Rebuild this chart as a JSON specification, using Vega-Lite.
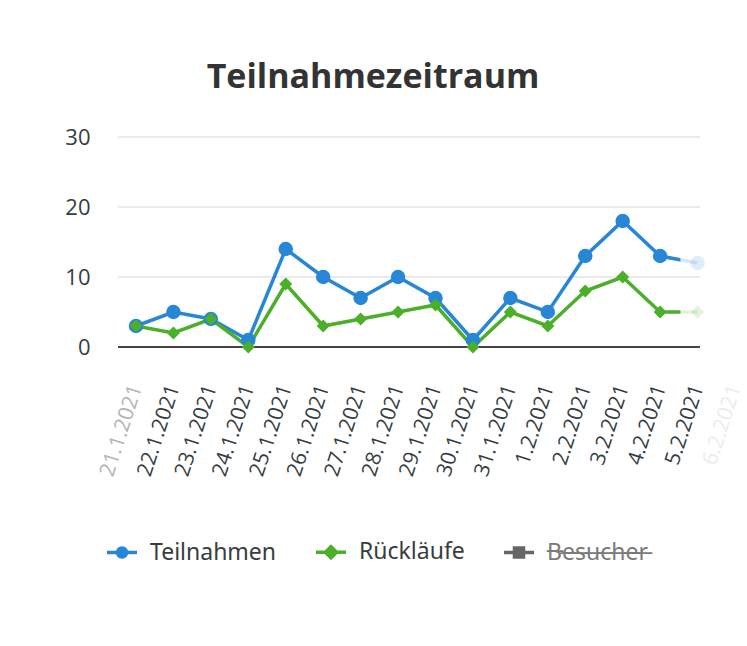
{
  "$schema": "https://vega.github.io/schema/vega-lite/v6.json",
  "width": 582,
  "height": 210,
  "autosize": "none",
  "padding": {"left": 118, "top": 137, "right": 47, "bottom": 299},
  "background": "white",
  "title": {
    "text": "Teilnahmezeitraum",
    "font": "Open Sans",
    "fontSize": 34,
    "fontWeight": "bold",
    "color": "#333333",
    "anchor": "middle",
    "dx": -36,
    "offset": 31
  },
  "layer": [
    {
      "data": {"values": [{"tick": 10}, {"tick": 20}, {"tick": 30}]},
      "mark": {"type": "rule", "stroke": "#e4e4e4", "strokeWidth": 1.5},
      "encoding": {
        "y": {
          "field": "tick",
          "type": "quantitative",
          "title": null,
          "scale": {"domain": [0, 30], "nice": false},
          "axis": {
            "values": [0, 10, 20, 30],
            "grid": false,
            "domain": false,
            "ticks": false,
            "labelPadding": 28,
            "labelFont": "Open Sans",
            "labelFontSize": 22,
            "labelColor": "#373d3f"
          }
        }
      }
    },
    {
      "data": {"values": [{"tick": 0}]},
      "mark": {"type": "rule", "stroke": "#444444", "strokeWidth": 2},
      "encoding": {
        "y": {"field": "tick", "type": "quantitative", "title": null}
      }
    },
    {
      "data": {
        "values": [
          {"date": "21.1.2021", "series": "Teilnahmen", "value": 3},
          {"date": "22.1.2021", "series": "Teilnahmen", "value": 5},
          {"date": "23.1.2021", "series": "Teilnahmen", "value": 4},
          {"date": "24.1.2021", "series": "Teilnahmen", "value": 1},
          {"date": "25.1.2021", "series": "Teilnahmen", "value": 14},
          {"date": "26.1.2021", "series": "Teilnahmen", "value": 10},
          {"date": "27.1.2021", "series": "Teilnahmen", "value": 7},
          {"date": "28.1.2021", "series": "Teilnahmen", "value": 10},
          {"date": "29.1.2021", "series": "Teilnahmen", "value": 7},
          {"date": "30.1.2021", "series": "Teilnahmen", "value": 1},
          {"date": "31.1.2021", "series": "Teilnahmen", "value": 7},
          {"date": "1.2.2021", "series": "Teilnahmen", "value": 5},
          {"date": "2.2.2021", "series": "Teilnahmen", "value": 13},
          {"date": "3.2.2021", "series": "Teilnahmen", "value": 18},
          {"date": "4.2.2021", "series": "Teilnahmen", "value": 13},
          {"date": "5.2.2021", "series": "Teilnahmen", "value": 12},
          {"date": "21.1.2021", "series": "Rückläufe", "value": 3},
          {"date": "22.1.2021", "series": "Rückläufe", "value": 2},
          {"date": "23.1.2021", "series": "Rückläufe", "value": 4},
          {"date": "24.1.2021", "series": "Rückläufe", "value": 0},
          {"date": "25.1.2021", "series": "Rückläufe", "value": 9},
          {"date": "26.1.2021", "series": "Rückläufe", "value": 3},
          {"date": "27.1.2021", "series": "Rückläufe", "value": 4},
          {"date": "28.1.2021", "series": "Rückläufe", "value": 5},
          {"date": "29.1.2021", "series": "Rückläufe", "value": 6},
          {"date": "30.1.2021", "series": "Rückläufe", "value": 0},
          {"date": "31.1.2021", "series": "Rückläufe", "value": 5},
          {"date": "1.2.2021", "series": "Rückläufe", "value": 3},
          {"date": "2.2.2021", "series": "Rückläufe", "value": 8},
          {"date": "3.2.2021", "series": "Rückläufe", "value": 10},
          {"date": "4.2.2021", "series": "Rückläufe", "value": 5},
          {"date": "5.2.2021", "series": "Rückläufe", "value": 5}
        ]
      },
      "encoding": {
        "x": {
          "field": "date",
          "type": "ordinal",
          "title": null,
          "scale": {
            "type": "point",
            "padding": 0,
            "range": [18, 617],
            "domain": ["21.1.2021", "22.1.2021", "23.1.2021", "24.1.2021", "25.1.2021", "26.1.2021", "27.1.2021", "28.1.2021", "29.1.2021", "30.1.2021", "31.1.2021", "1.2.2021", "2.2.2021", "3.2.2021", "4.2.2021", "5.2.2021", "6.2.2021"]
          },
          "axis": {
            "labelAngle": -72,
            "labelAlign": "right",
            "labelBaseline": "middle",
            "labelPadding": 38,
            "labelFont": "Open Sans",
            "labelFontSize": 21,
            "labelColor": {
              "condition": [
                {"test": "datum.value == '6.2.2021'", "value": "#ececec"},
                {"test": "datum.value == '21.1.2021'", "value": "#b4b4b4"}
              ],
              "value": "#373d3f"
            },
            "labelOverlap": false,
            "labelBound": false,
            "ticks": false,
            "grid": false,
            "domain": false
          }
        },
        "y": {"field": "value", "type": "quantitative", "title": null}
      },
      "layer": [
        {
          "transform": [{"filter": "datum.series == 'Teilnahmen'"}],
          "mark": {
            "type": "line",
            "strokeWidth": 3.5,
            "stroke": {
              "gradient": "linear",
              "x1": 0, "x2": 1, "y1": 0, "y2": 0,
              "stops": [
                {"offset": 0, "color": "#2786d6"},
                {"offset": 0.969, "color": "#2786d6"},
                {"offset": 0.97, "color": "#dbe9f7"},
                {"offset": 1, "color": "#dbe9f7"}
              ]
            }
          }
        },
        {
          "transform": [{"filter": "datum.series == 'Rückläufe'"}],
          "mark": {
            "type": "line",
            "strokeWidth": 3.5,
            "stroke": {
              "gradient": "linear",
              "x1": 0, "x2": 1, "y1": 0, "y2": 0,
              "stops": [
                {"offset": 0, "color": "#4caf29"},
                {"offset": 0.969, "color": "#4caf29"},
                {"offset": 0.97, "color": "#e1f1da"},
                {"offset": 1, "color": "#e1f1da"}
              ]
            }
          }
        },
        {
          "transform": [{"filter": "datum.series == 'Teilnahmen'"}],
          "mark": {"type": "point", "shape": "circle", "filled": true, "fill": "#2786d6", "size": 210},
          "encoding": {
            "opacity": {
              "condition": {"test": "datum.date == '5.2.2021'", "value": 0.15},
              "value": 1
            }
          }
        },
        {
          "transform": [{"filter": "datum.series == 'Rückläufe'"}],
          "mark": {"type": "point", "shape": "diamond", "filled": true, "fill": "#4caf29", "size": 170},
          "encoding": {
            "opacity": {
              "condition": {"test": "datum.date == '5.2.2021'", "value": 0.15},
              "value": 1
            }
          }
        },
        {
          "transform": [{"filter": "false"}],
          "mark": {"type": "point", "filled": true, "opacity": 1, "fillOpacity": 1},
          "encoding": {
            "color": {
              "field": "series",
              "type": "nominal",
              "scale": {
                "domain": ["Teilnahmen", "Rückläufe", "Besucher"],
                "range": ["#2786d6", "#4caf29", "#666666"]
              },
              "legend": {
                "title": null,
                "orient": "none",
                "direction": "horizontal",
                "legendX": -13,
                "legendY": 398,
                "padding": 0,
                "symbolSize": 900,
                "symbolOpacity": 1,
                "symbolStrokeWidth": 3.5,
                "labelOffset": 11,
                "columnPadding": 32,
                "labelFont": "Noto Sans, DejaVu Sans",
                "labelFontSize": 23,
                "labelColor": {"expr": "datum.value == 'Besucher' ? '#7a7a7a' : '#373d3f'"},
                "labelExpr": "datum.label == 'Besucher' ? 'B̶e̶s̶u̶c̶h̶e̶r̶' : datum.label"
              }
            },
            "stroke": {
              "field": "series",
              "type": "nominal",
              "scale": {
                "domain": ["Teilnahmen", "Rückläufe", "Besucher"],
                "range": ["#2786d6", "#4caf29", "#666666"]
              },
              "legend": {"title": null}
            },
            "shape": {
              "field": "series",
              "type": "nominal",
              "scale": {
                "domain": ["Teilnahmen", "Rückläufe", "Besucher"],
                "range": [
                  "M-1,0H1M0.3,0A0.3,0.3 0 1,1 -0.3,0A0.3,0.3 0 1,1 0.3,0Z",
                  "M-1,0H1M0,-0.37L0.37,0L0,0.37L-0.37,0Z",
                  "M-1,0H1M-0.3,-0.3H0.3V0.3H-0.3Z"
                ]
              },
              "legend": {"title": null}
            }
          }
        }
      ]
    }
  ],
  "config": {
    "view": {"stroke": null}
  }
}
